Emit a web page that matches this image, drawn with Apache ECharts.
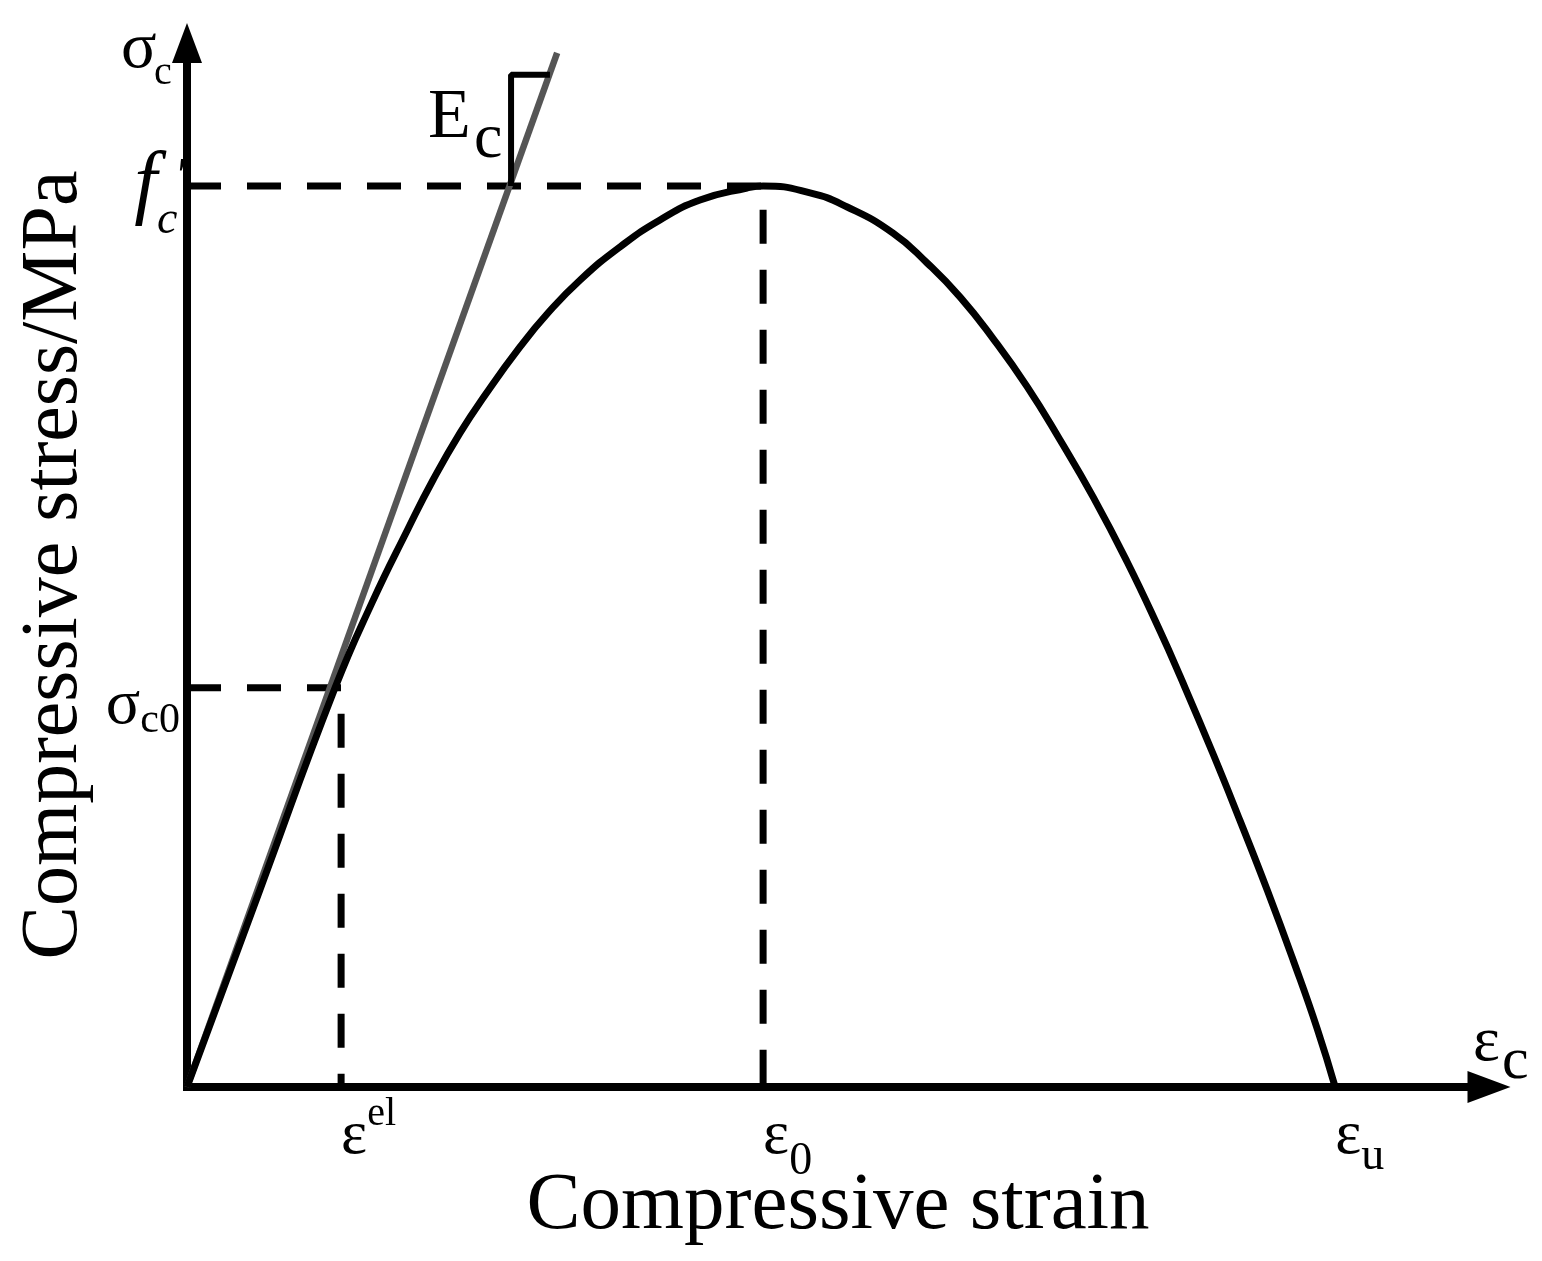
<!DOCTYPE html>
<html>
<head>
<meta charset="utf-8">
<script src="https://cdn.jsdelivr.net/npm/echarts@6/dist/echarts.min.js"></script>
<style>
    html, body { margin: 0; padding: 0; background: #fff; }
    #main { width: 1542px; height: 1261px; }
</style>
</head>
<body>
<div id="main"></div>
<script>
// strain in units of 1e-3, stress in MPa (f'c taken as 30)
var curveStrain = [0, 0.253, 0.514, 0.642, 0.767, 0.854, 0.948, 1.035, 1.156, 1.253, 1.365, 1.503, 1.642, 1.781, 1.944, 2.0,
    2.163, 2.292, 2.451, 2.569, 2.684, 2.799, 2.917, 3.031, 3.146, 3.264, 3.378, 3.448, 3.563, 3.656, 3.75, 3.84, 3.924, 3.986];
var curveStress = [0, 6.56, 13.29, 16.12, 18.58, 20.21, 21.78, 23.04, 24.64, 25.77, 26.87, 27.97, 28.87, 29.53, 29.93, 30.0,
    29.77, 29.30, 28.43, 27.44, 26.30, 24.91, 23.31, 21.54, 19.64, 17.48, 15.18, 13.67, 11.07, 8.86, 6.56, 4.23, 1.93, 0];

// initial tangent (elastic modulus Ec)
var tangentStrain = [0, 1.285];
var tangentStress = [0, 34.43];

// little slope triangle next to the "Ec" label
var slopeStrain = [1.125, 1.125, 1.26];
var slopeStress = [30.0, 33.70, 33.70];

// key points
var epsEl = 0.535;
var eps0 = 2.0;
var epsU = 3.986;
var sigC0 = 13.29;
var fc = 30.0;

var xMax = 4.52;
var yMax = 34.76;

var xTickValues = [epsEl, eps0, epsU];
var yTickValues = [sigC0, fc];

function pairs(xs, ys) {
    return xs.map(function (x, i) { return [x, ys[i]]; });
}

var FONT = '"Liberation Serif", "Times New Roman", serif';

var chartDom = document.getElementById('main');
var myChart = echarts.init(chartDom);
var option;

option = {
    backgroundColor: '#fff',
    animation: false,
    grid: {
        left: 187,
        right: 53,
        top: 43,
        bottom: 174,
        outerBoundsMode: 'none',
        containLabel: false
    },
    xAxis: {
        type: 'value',
        min: 0,
        max: xMax,
        name: 'Compressive strain',
        nameLocation: 'middle',
        nameGap: 79,
        nameMoveOverlap: false,
        nameTextStyle: { fontFamily: FONT, fontSize: 81, color: '#000' },
        axisLine: {
            show: true,
            symbol: ['none', 'triangle'],
            symbolSize: [32, 43],
            lineStyle: { color: '#000', width: 8, cap: 'square' }
        },
        axisTick: { show: false },
        splitLine: { show: false },
        axisLabel: {
            customValues: xTickValues,
            align: 'left',
            margin: 10,
            color: '#000',
            fontFamily: FONT,
            formatter: function (v) {
                if (v === epsEl) return '{e|ε}{sup|el}';
                if (v === eps0) return '{e|ε}{sub0|0}';
                return '{e|ε}{subu|u}';
            },
            rich: {
                e: { fontFamily: FONT, fontSize: 62, lineHeight: 80, color: '#000' },
                sup: { fontFamily: FONT, fontSize: 40, lineHeight: 10, padding: [0, 0, 45, 0], color: '#000' },
                sub0: { fontFamily: FONT, fontSize: 46, lineHeight: 10, padding: [50, 0, 0, 0], color: '#000' },
                subu: { fontFamily: FONT, fontSize: 46, lineHeight: 10, padding: [39, 0, 0, 0], color: '#000' }
            }
        }
    },
    yAxis: {
        type: 'value',
        min: 0,
        max: yMax,
        name: 'Compressive stress/MPa',
        nameLocation: 'middle',
        nameRotate: 90,
        nameGap: 84,
        nameTextStyle: { fontFamily: FONT, fontSize: 80, color: '#000' },
        axisLine: {
            show: true,
            symbol: ['none', 'triangle'],
            symbolSize: [30, 40],
            lineStyle: { color: '#000', width: 8, cap: 'square' }
        },
        axisTick: { show: false },
        splitLine: { show: false },
        axisLabel: {
            customValues: yTickValues,
            align: 'right',
            margin: -1,
            color: '#000',
            fontFamily: FONT,
            formatter: function (v) {
                if (v === sigC0) return '{s|σ}{sc|c0}';
                return '{f|f}{fc|c}{pr|′}';
            },
            rich: {
                s: { fontFamily: FONT, fontSize: 64, lineHeight: 80, padding: [36, 0, 0, 0], color: '#000' },
                sc: { fontFamily: FONT, fontSize: 42, lineHeight: 10, padding: [66, 8, 0, 0], color: '#000' },
                f: { fontFamily: FONT, fontSize: 82, fontStyle: 'italic', lineHeight: 90, color: '#000' },
                fc: { fontFamily: FONT, fontSize: 46, fontStyle: 'italic', lineHeight: 10, padding: [70, 0, 0, 0], color: '#000' },
                pr: { fontFamily: FONT, fontSize: 48, lineHeight: 10, padding: [0, 0, 15, 0], color: '#000' }
            }
        }
    },
    graphic: [
        { type: 'text', x: 121, y: 50, style: { text: 'σ', fontFamily: FONT, fontSize: 66, fill: '#000', verticalAlign: 'middle' } },
        { type: 'text', x: 154, y: 73, style: { text: 'c', fontFamily: FONT, fontSize: 40, fill: '#000', verticalAlign: 'middle' } },
        { type: 'text', x: 1473, y: 1043, style: { text: 'ε', fontFamily: FONT, fontSize: 64, fill: '#000', verticalAlign: 'middle' } },
        { type: 'text', x: 1502, y: 1062, style: { text: 'c', fontFamily: FONT, fontSize: 60, fill: '#000', verticalAlign: 'middle' } },
        { type: 'text', x: 428, y: 119, style: { text: 'E', fontFamily: FONT, fontSize: 70, fill: '#000', verticalAlign: 'middle' } },
        { type: 'text', x: 474, y: 140, style: { text: 'c', fontFamily: FONT, fontSize: 64, fill: '#000', verticalAlign: 'middle' } }
    ],
    series: [
        {
            name: 'peak guide',
            type: 'line',
            data: [[0, fc], [eps0, fc], [eps0, 0]],
            symbol: 'none',
            lineStyle: { color: '#000', width: 7, type: [34, 26] }
        },
        {
            name: 'elastic limit guide',
            type: 'line',
            data: [[0, sigC0], [epsEl, sigC0], [epsEl, 0]],
            symbol: 'none',
            lineStyle: { color: '#000', width: 7, type: [34, 26] }
        },
        {
            name: 'Ec tangent',
            type: 'line',
            data: pairs(tangentStrain, tangentStress),
            symbol: 'none',
            lineStyle: { color: '#555', width: 6.5 }
        },
        {
            name: 'slope mark',
            type: 'line',
            data: pairs(slopeStrain, slopeStress),
            symbol: 'none',
            lineStyle: { color: '#000', width: 6 }
        },
        {
            name: 'stress-strain',
            type: 'line',
            data: pairs(curveStrain, curveStress),
            symbol: 'none',
            smooth: 0.5,
            lineStyle: { color: '#000', width: 7, join: 'round' }
        }
    ]
};

option && myChart.setOption(option);

window.addEventListener('resize', function () {
    myChart.resize();
});
</script>
</body>
</html>
